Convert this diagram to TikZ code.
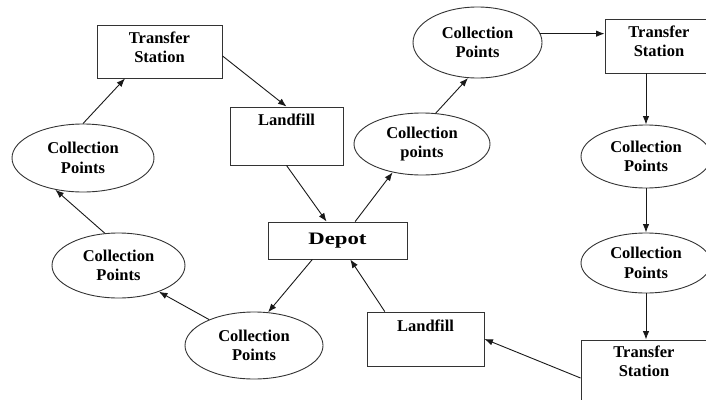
\documentclass[tikz,border=0pt]{standalone}
\usepackage{fontspec}
\setmainfont{Liberation Serif}
\newfontfamily\depotfont[FakeStretch=1.3]{Liberation Serif}
\usetikzlibrary{shapes.geometric, arrows.meta, positioning}
\tikzstyle{station} = [rectangle, draw=black!80, line width=0.9pt, inner ysep=0pt, text height=18pt, align=center, font=\fontsize{16.5}{19.5}\selectfont\bfseries]
\tikzstyle{points} = [ellipse, draw=black!80, line width=0.9pt, inner sep=0pt, align=center, font=\fontsize{16.5}{19.5}\selectfont\bfseries]
\tikzstyle{depot} = [rectangle, draw=black!80, line width=0.9pt, minimum width=139pt, minimum height=37pt, font=\depotfont\fontsize{17.5}{20}\selectfont\bfseries]
\tikzstyle{arrow} = [line width=0.9pt, draw=black!90, -{Latex[length=8.5pt,width=6.5pt]}]

\begin{document}
\begin{tikzpicture}[x=1pt, y=-1pt]
\useasboundingbox (0,0) rectangle (706,399);

\node (dp) [depot] at (337.5,240.5) {Depot};

\node (ts1) [station, minimum width=125pt, text height=37.5pt, text depth=15.5pt] at (159.5,51.5) {Transfer\\Station};
\node (lf1) [station, minimum width=113pt, text depth=40pt] at (286.5,136) {Landfill};
\node (cp1) [points, minimum width=142pt, minimum height=68pt] at (83,158) {Collection\\Points};
\node (cp2) [points, minimum width=133pt, minimum height=65pt] at (118.5,265.5) {Collection\\Points};
\node (cp3) [points, minimum width=138pt, minimum height=67pt] at (254,345.5) {Collection\\Points};

\node (cp4) [points, minimum width=136pt, minimum height=62pt] at (422,144) {Collection\\points};
\node (cp5) [points, minimum width=129pt, minimum height=71pt] at (477.5,42.5) {Collection\\Points};
\node (ts2) [station, minimum width=108pt, text height=37.5pt, text depth=16.5pt] at (659,46) {Transfer\\Station};
\node (cp6) [points, minimum width=130pt, minimum height=63pt] at (646,156.5) {Collection\\Points};
\node (cp7) [points, minimum width=130pt, minimum height=60pt] at (646,263) {Collection\\Points};
\node (ts3) [station, minimum width=126pt, text height=36.5pt, text depth=39.5pt] at (644,378) {Transfer\\Station};
\node (lf2) [station, minimum width=117pt, text height=19pt, text depth=35pt] at (425.5,339) {Landfill};

% left loop
\draw [arrow] (dp.217) -- (cp3.67);
\draw [arrow] (cp3.150) -- (cp2.-33);
\draw [arrow] (cp2.113) -- (cp1.229);
\draw [arrow] (cp1.north) -- (ts1.218);
\draw [arrow] (ts1.-4) -- (lf1.north);
\draw [arrow] (lf1.south) -- (dp.120);

% right loop
\draw [arrow] (dp.47) -- (cp4.224);
\draw [arrow] (cp4.66) -- (cp5.255);
\draw [arrow] (cp5.8) -- (cp5.8 -| ts2.west);
\draw [arrow] (ts2.south -| cp6.north) -- (cp6.north);
\draw [arrow] (cp6) -- (cp7);
\draw [arrow] (cp7.south) -- (cp7.south |- ts3.north);
\draw [arrow] (ts3.west) -- (lf2.east);
\draw [arrow] (lf2.146) -- (dp.-56);
\end{tikzpicture}
\end{document}
